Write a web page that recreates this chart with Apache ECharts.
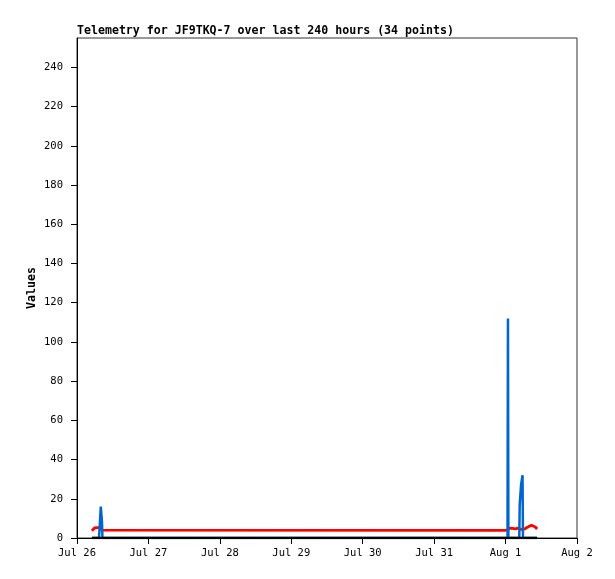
<!DOCTYPE html>
<html>
<head>
<meta charset="utf-8">
<script src="https://cdn.jsdelivr.net/npm/echarts@6/dist/echarts.min.js"></script>
<style>html,body{margin:0;padding:0;background:#fff;}#c{width:615px;height:579px;}</style>
</head>
<body>
<div id="c"></div>
<script>
// hours since Jul 26 00:00
var hours = [5.0, 5.5, 5.9, 6.7, 7.4, 7.85, 8.0, 8.4, 8.55, 8.74,
  143.8, 144.3, 144.65, 144.8, 144.95, 145.5, 145.9, 146.4, 146.8, 147.3,
  147.7, 148.2, 148.6, 148.75, 149.2, 149.7, 149.85, 150.5, 151.2, 152.0,
  152.7, 153.3, 154.0, 154.6];
var redValues = [3.7, 3.8, 5.1, 5.3, 5.3, 5.2, 5.1, 4.0, 3.2, 3.0,
  3.9, 4.0, 4.1, 4.2, 4.4, 5.0, 4.4, 4.9, 4.2, 4.7,
  4.5, 5.0, 4.3, 4.5, 4.4, 4.2, 4.1, 4.6, 5.4, 6.0,
  6.5, 6.9, 5.6, 4.6];
var blueValues = [0, 0, 0, 0, 0, 0, 16, 8, 0, 0,
  0, 0, 0, 112, 0, 0, 0, 0, 0, 0,
  0, 0, 0, 17, 27, 32, 0, 0, 0, 0,
  0, 0, 0, 0];
var blackValues = [0, 0, 0, 0, 0, 0, 0, 0, 0, 0,
  0, 0, 0, 0, 0, 0, 0, 0, 0, 0,
  0, 0, 0, 0, 0, 0, 0, 0, 0, 0,
  0, 0, 0, 0];
var xLabels = ['Jul 26', 'Jul 27', 'Jul 28', 'Jul 29', 'Jul 30', 'Jul 31', 'Aug 1', 'Aug 2'];
var yTicks = [0, 20, 40, 60, 80, 100, 120, 140, 160, 180, 200, 220, 240];
var titleText = 'Telemetry for JF9TKQ-7 over last 240 hours (34 points)';

function pairs(vals) {
  return hours.map(function (h, i) { return [h, vals[i]]; });
}
var mono = 'DejaVu Sans Mono';
var chart = echarts.init(document.getElementById('c'), null, {renderer: 'canvas'});
chart.setOption({
  animation: false,
  backgroundColor: '#fff',
  title: {
    text: titleText, left: 77, top: 25, padding: 0,
    textStyle: {fontFamily: mono, fontSize: 11.6, fontWeight: 'bold', color: '#000'}
  },
  grid: {left: 77, right: 38, top: 38, bottom: 41, show: true, borderColor: '#333', borderWidth: 1, backgroundColor: 'transparent'},
  xAxis: {
    type: 'value', min: 0, max: 168, interval: 24,
    axisLine: {show: true, lineStyle: {color: '#000', width: 1}},
    axisTick: {show: true, length: 6, lineStyle: {color: '#000'}},
    splitLine: {show: false},
    axisLabel: {
      margin: 10, color: '#000', fontFamily: mono, fontSize: 10.5,
      formatter: function (v) { return xLabels[Math.round(v / 24)]; }
    }
  },
  yAxis: {
    type: 'value', min: 0, max: 255,
    name: 'Values', nameLocation: 'middle', nameGap: 39, nameMoveOverlap: false,
    nameTextStyle: {fontFamily: mono, fontSize: 11.6, fontWeight: 'bold', color: '#000'},
    axisLine: {show: true, lineStyle: {color: '#000', width: 1}},
    axisTick: {show: true, length: 6, customValues: yTicks, lineStyle: {color: '#000'}},
    splitLine: {show: false},
    axisLabel: {margin: 14, color: '#000', fontFamily: mono, fontSize: 10.5, customValues: yTicks}
  },
  series: [
    {type: 'line', data: pairs(redValues), showSymbol: false, lineStyle: {color: '#ff0000', width: 2.8}, itemStyle: {color: '#ff0000'}, z: 2},
    {type: 'line', data: pairs(blueValues), showSymbol: false, lineStyle: {color: '#0066cc', width: 2.5}, itemStyle: {color: '#0066cc'}, z: 3},
    {type: 'line', data: pairs(blackValues), showSymbol: false, lineStyle: {color: '#000000', width: 2.5}, itemStyle: {color: '#000'}, z: 4}
  ]
});
</script>
</body>
</html>
